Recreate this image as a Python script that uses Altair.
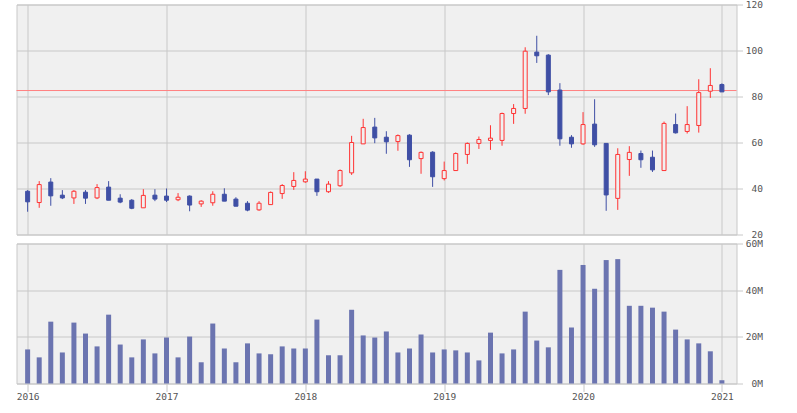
import altair as alt
import pandas as pd

dates = pd.date_range("2016-01-01", periods=61, freq="MS")

open_ = [38.8, 33.9, 42.8, 37.1, 35.9, 38.4, 35.9, 40.6, 35.8, 34.9, 31.6, 37.1,
         36.7, 35.1, 36.7, 33.3, 33.8, 37.5, 35.4, 33.6, 30.7, 33.0, 37.8, 40.9,
         42.9, 44.1, 38.6, 41.2, 46.8, 59.4, 66.7, 62.3, 60.4, 63.2, 53.0, 55.8,
         44.3, 47.8, 54.8, 59.6, 60.9, 60.9, 72.6, 74.8, 99.3, 98.0, 82.8, 62.3,
         59.4, 68.0, 59.6, 35.7, 52.6, 55.2, 53.6, 47.8, 67.8, 64.8, 67.4, 82.3,
         85.2]
close = [34.2, 41.7, 36.8, 35.9, 38.8, 35.8, 40.4, 34.9, 34.1, 31.4, 37.0, 35.4,
         34.9, 36.2, 32.8, 34.5, 37.5, 34.5, 32.3, 30.6, 33.6, 38.3, 41.3, 43.5,
         44.1, 38.6, 41.9, 47.8, 60.0, 66.5, 62.0, 60.3, 63.0, 52.5, 55.7, 45.1,
         47.8, 55.2, 59.6, 61.3, 61.9, 72.6, 74.8, 99.7, 97.7, 82.0, 61.6, 59.4,
         67.8, 59.0, 37.2, 54.8, 55.7, 52.5, 48.1, 68.3, 64.2, 67.8, 81.7, 84.8,
         82.0]
high = [39.3, 43.2, 44.5, 39.3, 39.3, 39.3, 41.9, 43.2, 37.5, 35.4, 39.7, 39.7,
        40.0, 38.0, 37.0, 34.9, 38.8, 40.1, 36.2, 34.5, 34.5, 38.7, 41.9, 47.1,
        47.5, 44.1, 43.2, 48.3, 62.9, 70.3, 70.7, 64.9, 63.5, 63.6, 56.1, 56.2,
        51.7, 55.7, 60.0, 62.6, 67.5, 73.0, 76.7, 101.4, 106.4, 98.4, 85.8, 63.2,
        73.2, 78.8, 59.6, 57.5, 58.4, 56.5, 56.5, 69.1, 72.6, 75.8, 87.5, 92.3,
        85.7]
low = [29.9, 31.6, 32.5, 35.4, 33.3, 33.3, 35.4, 34.9, 33.6, 31.0, 31.6, 34.5,
       34.1, 34.5, 30.1, 32.0, 32.5, 34.5, 32.3, 30.1, 30.3, 33.0, 35.5, 39.4,
       42.5, 36.8, 38.1, 40.7, 45.9, 59.4, 59.7, 55.1, 56.4, 49.4, 46.4, 40.7,
       43.5, 47.8, 50.7, 57.2, 56.8, 58.6, 68.1, 72.5, 94.6, 80.6, 58.6, 57.7,
       59.0, 58.1, 30.3, 30.7, 45.5, 49.0, 47.2, 47.8, 63.9, 63.9, 64.3, 79.4,
       82.0]
volume_m = [14.6, 11.2, 26.5, 13.3, 26.1, 21.4, 15.9, 29.5, 16.7, 11.2, 18.9, 12.9,
            19.7, 11.2, 20.1, 9.1, 25.7, 15.0, 9.1, 17.2, 12.9, 12.5, 15.9, 15.0,
            15.0, 27.4, 12.1, 12.1, 31.6, 20.6, 19.7, 22.3, 13.3, 15.0, 21.0, 13.3,
            14.6, 14.2, 13.3, 9.9, 21.8, 12.9, 14.6, 30.8, 18.4, 15.5, 48.7, 24.0,
            50.8, 40.6, 52.9, 53.3, 33.3, 33.3, 32.5, 30.8, 23.1, 18.9, 17.2, 13.8,
            1.4]
year_ticks = [2016, 2017, 2018, 2019, 2020, 2021]
ref_level = [82.6]

START_YEAR = 2016
df = pd.DataFrame({
    "m": [(d.year - START_YEAR) * 12 + d.month - 1 for d in dates],
    "open": open_, "high": high, "low": low, "close": close,
    "volume": [v * 1e6 for v in volume_m],
})
df["dir"] = ["up" if c >= o else "down" for o, c in zip(open_, close)]
ref_df = pd.DataFrame({"level": ref_level})
tick_vals = [(y - START_YEAR) * 12 for y in year_ticks]

BLUE = "#3f4fa5"
RED = "#ff3333"
BG = "#f0f0f0"
GRID = "#c8c8c8"
FONT = "DejaVu Sans Mono"

xscale = alt.Scale(domain=[-0.53, 60.83], nice=False, zero=False)

x_top = alt.X("m:Q", scale=xscale, title=None,
              axis=alt.Axis(labels=False, ticks=False, grid=True, domain=False,
                            values=tick_vals))
x_bot = alt.X("m:Q", scale=xscale, title=None,
              axis=alt.Axis(values=tick_vals, tickSize=8, grid=True, domain=False,
                            labelFlush=False, labelPadding=0,
                            labelExpr=f"'' + ({START_YEAR} + datum.value / 12)"))

yprice = alt.Scale(domain=[20, 120], nice=False, zero=False)
yaxis_top = alt.Axis(orient="right", values=[20, 40, 60, 80, 100, 120], tickSize=6,
                     labelAlign="right", labelPadding=20, labelBaseline="middle",
                     domain=False, grid=True)

dirscale_stroke = alt.Scale(domain=["up", "down"], range=[RED, BLUE])
dirscale_fill = alt.Scale(domain=["up", "down"], range=[BG, BLUE])

base = alt.Chart(df)

wick = base.mark_rule(strokeWidth=1).encode(
    x=x_top,
    y=alt.Y("low:Q", scale=yprice, title=None, axis=yaxis_top),
    y2="high:Q",
    color=alt.Color("dir:N", scale=dirscale_stroke, legend=None),
)
body = base.mark_bar(size=4, strokeWidth=1).encode(
    x=x_top,
    y=alt.Y("open:Q", scale=yprice),
    y2="close:Q",
    fill=alt.Fill("dir:N", scale=dirscale_fill, legend=None),
    stroke=alt.Stroke("dir:N", scale=dirscale_stroke, legend=None),
)
ref = alt.Chart(ref_df).mark_rule(color="#ff8080", strokeWidth=1).encode(
    y=alt.Y("level:Q", scale=yprice)
)

top = alt.layer(wick, ref, body).properties(width=720, height=230).resolve_scale(
    fill="independent", stroke="independent", color="independent")

vol = base.mark_bar(size=5, color="#6b74b0").encode(
    x=x_bot,
    y=alt.Y("volume:Q", scale=alt.Scale(domain=[0, 60e6], nice=False), title=None,
            axis=alt.Axis(orient="right", values=[0, 20e6, 40e6, 60e6], tickSize=6,
                          labelAlign="right", labelPadding=20, labelBaseline="middle",
                          domain=False, grid=True,
                          labelExpr="(datum.value/1000000) + 'M'")),
).properties(width=720, height=140)

chart = alt.vconcat(top, vol, spacing=9, bounds="flush").properties(
    padding={"left": 15.5, "top": -1.5, "right": 0, "bottom": 0},
    background="white",
).configure_view(
    fill=BG, stroke=GRID, strokeWidth=1
).configure_axis(
    gridColor=GRID, gridWidth=1, tickColor=GRID, tickWidth=1,
    labelFont=FONT, labelFontSize=9.5, labelColor="#555555",
)

chart.save("out.html", embed_options={"renderer": "svg", "actions": False})
